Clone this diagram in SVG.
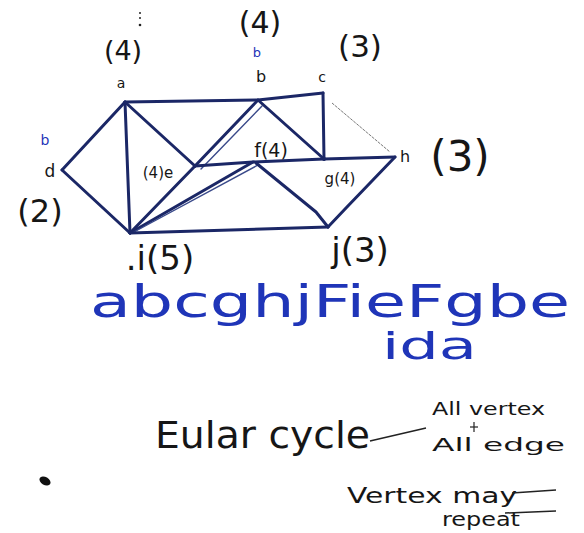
<svg xmlns="http://www.w3.org/2000/svg" width="584" height="533" viewBox="0 0 584 533">
<style>
.e{stroke:#1b2766;stroke-width:3;fill:none;stroke-linecap:round;stroke-linejoin:round}
.e2{stroke:#3a4a8a;stroke-width:1.4;fill:none;stroke-linecap:round}
.thin{stroke:#777;stroke-width:1;fill:none;stroke-dasharray:3 1}
.t{font-family:"DejaVu Sans","Liberation Sans",sans-serif;fill:#161616}
.s{font-family:"DejaVu Sans","Liberation Sans",sans-serif;fill:#1f35b8}
</style>
<rect width="584" height="533" fill="#ffffff"/>
<g id="connectors">
<polyline class="e" points="125,102 258,100 323,93"/>
<line class="e" x1="125" y1="102" x2="62" y2="170"/>
<line class="e" x1="62" y1="170" x2="130" y2="233"/>
<line class="e" x1="125" y1="102" x2="130" y2="233"/>
<line class="e" x1="125" y1="102" x2="195" y2="166"/>
<line class="e" x1="195" y1="166" x2="130" y2="233"/>
<line class="e" x1="195" y1="166" x2="258" y2="100"/>
<line class="e2" x1="201" y1="169" x2="262" y2="106"/>
<polyline class="e" points="195,166 253,162 324,159 395,157"/>
<line class="e" x1="258" y1="100" x2="324" y2="159"/>
<line class="e" x1="323" y1="93" x2="324" y2="159"/>
<line class="thin" x1="332" y1="103" x2="390" y2="152"/>
<line class="e" x1="130" y1="233" x2="253" y2="162"/>
<line class="e2" x1="134" y1="232" x2="258" y2="165"/>
<path class="e" d="M256,163 L316,212 L328,227"/>
<path class="e" d="M395,157 L346,208 L328,227"/>
<line class="e" x1="130" y1="233" x2="328" y2="227"/>
</g>
<g id="a">
<text class="t" x="123" y="60" font-size="27" text-anchor="middle">(4)</text>
<circle cx="140" cy="13" r="1" fill="#222"/><circle cx="140" cy="18" r="1" fill="#222"/><circle cx="140" cy="25" r="1.3" fill="#222"/>
<text class="t" x="121" y="88" font-size="14" text-anchor="middle">a</text>
</g>
<g id="b">
<text class="t" x="260" y="33" font-size="30" text-anchor="middle">(4)</text>
<text class="s" x="257" y="57" font-size="13" text-anchor="middle">b</text>
<text class="t" x="261" y="82" font-size="16" text-anchor="middle">b</text>
</g>
<g id="c">
<text class="t" x="360" y="57" font-size="31" text-anchor="middle">(3)</text>
<text class="t" x="322" y="82" font-size="14" text-anchor="middle">c</text>
</g>
<g id="d">
<text class="s" x="45" y="145" font-size="14" text-anchor="middle">b</text>
<text class="t" x="50" y="177" font-size="17" text-anchor="middle">d</text>
<text class="t" x="40" y="222" font-size="32" text-anchor="middle">(2)</text>
</g>
<g id="e">
<text class="t" x="158" y="178" font-size="15" text-anchor="middle">(4)e</text>
</g>
<g id="f">
<text class="t" x="271" y="157" font-size="19" text-anchor="middle">f(4)</text>
</g>
<g id="g">
<circle cx="324" cy="159" r="2" fill="#1b2766"/>
<text class="t" x="340" y="184" font-size="15" text-anchor="middle">g(4)</text>
</g>
<g id="h">
<text class="t" x="405" y="162" font-size="16" text-anchor="middle">h</text>
<text class="t" x="460" y="171" font-size="42" text-anchor="middle">(3)</text>
</g>
<g id="i">
<text class="t" x="160" y="270" font-size="34" text-anchor="middle">.i(5)</text>
</g>
<g id="j">
<text class="t" x="360" y="262" font-size="34" text-anchor="middle">j(3)</text>
</g>
<text class="s" x="90" y="317" font-size="44" textLength="480" lengthAdjust="spacingAndGlyphs">abcghjFieFgbe</text>
<text class="s" x="382" y="359" font-size="38" textLength="95" lengthAdjust="spacingAndGlyphs">ida</text>
<text class="t" x="155" y="448" font-size="38" textLength="215" lengthAdjust="spacingAndGlyphs">Eular cycle</text>
<line x1="370" y1="441" x2="426" y2="428" stroke="#222" stroke-width="1.5"/>
<text class="t" x="432" y="415" font-size="17" textLength="113" lengthAdjust="spacingAndGlyphs">All vertex</text>
<line x1="470" y1="427" x2="478" y2="427" stroke="#222" stroke-width="1.2"/>
<line x1="474" y1="422" x2="474" y2="432" stroke="#222" stroke-width="1.2"/>
<text class="t" x="432" y="451" font-size="18" textLength="133" lengthAdjust="spacingAndGlyphs">All edge</text>
<ellipse cx="45" cy="481" rx="6" ry="4" fill="#111" transform="rotate(30 45 481)"/>
<text class="t" x="347" y="503" font-size="22" textLength="170" lengthAdjust="spacingAndGlyphs">Vertex may</text>
<line x1="512" y1="493" x2="556" y2="490" stroke="#222" stroke-width="1.5"/>
<text class="t" x="442" y="526" font-size="19" textLength="78" lengthAdjust="spacingAndGlyphs">repeat</text>
<line x1="505" y1="513" x2="556" y2="511" stroke="#222" stroke-width="1.5"/>
</svg>
